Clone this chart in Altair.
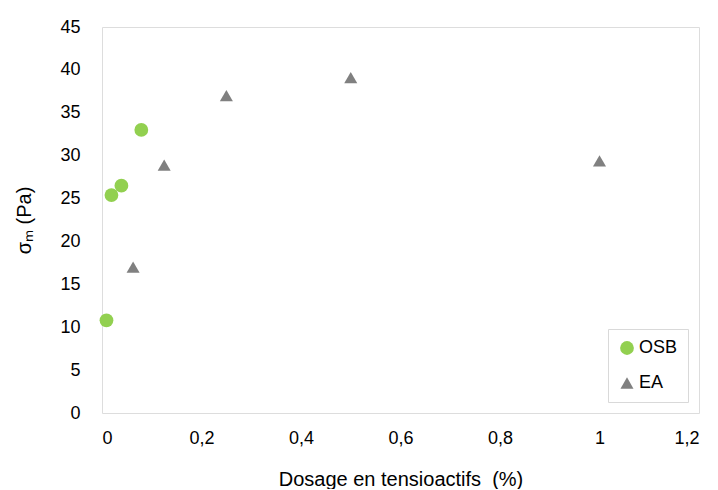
import altair as alt
import pandas as pd

series_names = ["OSB", "EA"]
osb_x = [0.009, 0.019, 0.039, 0.079]
osb_y = [10.8, 25.4, 26.5, 33.0]
ea_x = [0.0625, 0.125, 0.25, 0.5, 1.0]
ea_y = [17.0, 28.9, 37.0, 39.1, 29.4]
x_ticks = [0, 0.2, 0.4, 0.6, 0.8, 1.0, 1.2]
y_ticks = [0, 5, 10, 15, 20, 25, 30, 35, 40, 45]

df = pd.DataFrame({
    "x": osb_x + ea_x,
    "y": osb_y + ea_y,
    "serie": ["OSB"] * len(osb_x) + ["EA"] * len(ea_x),
})

FONT = "Liberation Sans"

chart = alt.Chart(df).mark_point(filled=True, opacity=1).encode(
    x=alt.X("x:Q", scale=alt.Scale(domain=[0, 1.2], nice=False, zero=True),
            axis=alt.Axis(values=x_ticks, title="Dosage en tensioactifs\u00a0 (%)",
                          labelExpr="replace(format(datum.value, '~g'), '.', ',')",
                          grid=False, ticks=False, domain=False,
                          labelFontSize=18, labelPadding=16, labelColor="#000000",
                          titleFontSize=20, titleFontWeight="normal", titleColor="#000000",
                          titlePadding=22, labelFont=FONT, titleFont=FONT)),
    y=alt.Y("y:Q", scale=alt.Scale(domain=[0, 45], nice=False),
            axis=alt.Axis(values=y_ticks, title="σₘ (Pa)", format="d",
                          grid=False, ticks=False, domain=False,
                          labelFontSize=18, labelPadding=22, labelColor="#000000",
                          titleFontSize=20, titleFontWeight="normal", titleColor="#000000",
                          titlePadding=25, labelFont=FONT, titleFont=FONT)),
    color=alt.Color("serie:N", scale=alt.Scale(domain=series_names, range=["#92d050", "#808080"]),
                    legend=alt.Legend(title=None, orient="bottom-right", offset=11,
                                      strokeColor="#d9d9d9", padding=10, fillColor="white",
                                      labelFontSize=18, labelFont=FONT, labelColor="#000000",
                                      symbolSize=110, rowPadding=16, labelOffset=3,
                                      symbolOpacity=1)),
    shape=alt.Shape("serie:N", scale=alt.Scale(domain=series_names, range=["circle", "triangle-up"])),
    size=alt.Size("serie:N", scale=alt.Scale(domain=series_names, range=[190, 170]), legend=None),
).properties(
    width=597, height=386,
    padding={"left": 6, "top": 10, "right": 5, "bottom": 0},
).configure_view(
    stroke="#c0c0c0", strokeWidth=1.5
).configure(background="white")

chart.save("out.html", embed_options={"renderer": "svg", "actions": False})
